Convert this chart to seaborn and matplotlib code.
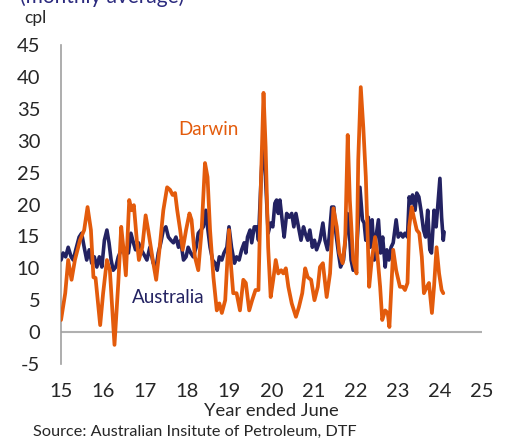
import pandas as pd
import matplotlib
matplotlib.use("Agg")
import matplotlib.pyplot as plt
import seaborn as sns

# Year ended June (decimal), cents per litre
darwin_t = [15.00, 15.10, 15.17, 15.25, 15.33, 15.45, 15.55, 15.63, 15.71, 15.77,
            15.82, 15.93, 16.00, 16.09, 16.16, 16.27, 16.36, 16.43, 16.48, 16.54,
            16.62, 16.68, 16.73, 16.80, 16.85, 16.93, 17.01, 17.07, 17.18, 17.26,
            17.33, 17.43, 17.52, 17.59, 17.65, 17.71, 17.76, 17.83, 17.89, 17.97,
            18.05, 18.10, 18.18, 18.26, 18.34, 18.42, 18.48, 18.54, 18.62, 18.70,
            18.76, 18.82, 18.90, 18.99, 19.04, 19.09, 19.17, 19.25, 19.33, 19.39,
            19.47, 19.54, 19.62, 19.69, 19.75, 19.81, 19.86, 19.92, 19.98, 20.04,
            20.10, 20.16, 20.23, 20.28, 20.34, 20.40, 20.48, 20.58, 20.65, 20.73,
            20.80, 20.86, 20.94, 21.02, 21.10, 21.15, 21.22, 21.31, 21.39, 21.47,
            21.55, 21.61, 21.69, 21.75, 21.81, 21.86, 21.94, 22.02, 22.06, 22.12,
            22.18, 22.24, 22.30, 22.32, 22.38, 22.46, 22.51, 22.58, 22.63, 22.70,
            22.76, 22.80, 22.84, 22.89, 22.96, 23.05, 23.12, 23.17, 23.23, 23.27,
            23.33, 23.38, 23.45, 23.51, 23.57, 23.62, 23.69, 23.74, 23.81, 23.86,
            23.92, 23.98, 24.04, 24.08]
darwin_v = [1.9, 6.1, 11.3, 8.2, 11.3, 14.4, 16.0, 19.6, 16.0, 8.6,
            8.5, 1.1, 6.1, 11.3, 9.7, -2.0, 7.7, 16.5, 13.3, 8.9,
            20.7, 19.1, 19.9, 14.4, 11.3, 13.3, 18.3, 16.0, 11.3, 8.2,
            12.4, 19.1, 22.7, 22.3, 21.5, 21.8, 19.1, 16.0, 12.9, 16.0,
            18.6, 17.6, 11.8, 9.7, 16.0, 26.5, 24.3, 16.0, 8.6, 3.4,
            4.5, 3.0, 5.0, 16.0, 10.2, 6.1, 6.1, 3.4, 8.2, 7.7,
            3.4, 5.0, 6.6, 6.6, 23.8, 37.5, 29.0, 13.3, 5.5, 8.2,
            11.3, 9.2, 9.7, 9.2, 10.0, 7.1, 4.5, 2.4, 3.9, 6.1,
            10.0, 8.6, 8.2, 5.0, 7.1, 10.2, 10.8, 5.5, 9.2, 19.4,
            16.5, 12.4, 10.8, 14.4, 30.9, 20.7, 11.3, 9.2, 27.0, 38.4,
            32.1, 24.3, 11.3, 7.1, 11.3, 14.9, 12.4, 7.1, 1.9, 3.4,
            3.0, 0.8, 6.1, 12.9, 9.7, 7.1, 7.1, 6.6, 7.7, 16.5,
            19.6, 18.0, 16.0, 15.5, 11.8, 6.1, 7.1, 7.7, 3.0, 7.1,
            13.3, 9.2, 6.6, 6.1]

aus_t = [15.00, 15.05, 15.11, 15.17, 15.24, 15.29, 15.35, 15.43, 15.49, 15.55,
         15.61, 15.67, 15.73, 15.79, 15.85, 15.91, 15.97, 16.03, 16.09, 16.14,
         16.19, 16.24, 16.30, 16.36, 16.43, 16.48, 16.54, 16.60, 16.66, 16.72,
         16.77, 16.84, 16.89, 16.95, 17.04, 17.11, 17.19, 17.26, 17.31, 17.37,
         17.43, 17.49, 17.55, 17.61, 17.67, 17.73, 17.79, 17.84, 17.91, 17.97,
         18.02, 18.08, 18.14, 18.21, 18.26, 18.32, 18.38, 18.44, 18.48, 18.54,
         18.60, 18.66, 18.71, 18.76, 18.82, 18.87, 18.94, 18.99, 19.05, 19.12,
         19.17, 19.23, 19.29, 19.35, 19.39, 19.43, 19.49, 19.53, 19.59, 19.65,
         19.69, 19.75, 19.81, 19.86, 19.92, 19.98, 20.03, 20.08, 20.12, 20.16,
         20.20, 20.26, 20.30, 20.36, 20.42, 20.48, 20.53, 20.58, 20.64, 20.70,
         20.76, 20.80, 20.86, 20.91, 20.97, 21.02, 21.07, 21.13, 21.15, 21.22,
         21.27, 21.33, 21.37, 21.43, 21.48, 21.53, 21.59, 21.64, 21.71, 21.76,
         21.80, 21.85, 21.89, 21.94, 22.00, 22.05, 22.10, 22.16, 22.20, 22.24,
         22.30, 22.34, 22.39, 22.44, 22.48, 22.54, 22.59, 22.64, 22.70, 22.74,
         22.79, 22.84, 22.89, 22.96, 23.01, 23.07, 23.12, 23.17, 23.23, 23.27,
         23.31, 23.35, 23.41, 23.45, 23.50, 23.55, 23.61, 23.66, 23.71, 23.76,
         23.80, 23.86, 23.91, 23.95, 24.00, 24.04, 24.08, 24.10]
aus_v = [11.3, 12.4, 11.8, 13.3, 11.8, 11.3, 12.9, 14.9, 15.5, 13.3,
         11.3, 12.9, 10.8, 11.8, 10.2, 11.8, 10.2, 14.4, 16.0, 14.0,
         11.3, 9.7, 10.2, 11.8, 12.9, 13.3, 12.9, 12.4, 15.5, 14.0,
         12.9, 14.0, 13.1, 12.4, 11.3, 13.3, 10.8, 10.2, 12.4, 14.0,
         16.0, 16.5, 14.9, 14.4, 14.0, 14.9, 13.3, 14.4, 11.3, 11.8,
         13.3, 12.4, 11.8, 13.3, 15.5, 16.0, 16.5, 19.1, 16.5, 13.3,
         11.3, 10.8, 9.7, 11.8, 11.3, 12.4, 13.3, 16.5, 13.3, 10.8,
         11.8, 11.3, 12.9, 14.0, 12.4, 14.9, 16.0, 14.0, 16.5, 16.5,
         14.4, 23.8, 31.5, 23.8, 15.5, 17.1, 16.5, 20.2, 20.7, 18.6,
         20.7, 17.1, 14.9, 18.6, 18.0, 18.6, 16.5, 18.6, 16.5, 14.4,
         16.5, 15.5, 14.4, 16.0, 13.3, 14.4, 12.9, 14.0, 14.4, 17.1,
         14.4, 12.9, 14.9, 19.6, 19.6, 15.5, 12.4, 10.2, 11.3, 14.9,
         18.6, 15.5, 11.3, 9.7, 10.2, 16.0, 22.7, 17.6, 17.1, 14.4,
         18.0, 13.3, 17.6, 11.3, 14.9, 17.6, 12.4, 14.9, 10.2, 12.9,
         11.3, 13.3, 14.0, 17.6, 14.9, 15.5, 14.9, 15.5, 14.9, 21.2,
         20.2, 21.5, 19.1, 21.8, 21.2, 19.1, 16.0, 14.9, 19.1, 12.9,
         12.4, 19.1, 16.5, 19.9, 24.1, 18.0, 14.4, 15.7]

x_ticks = list(range(15, 26))
y_ticks = list(range(-5, 50, 5))

ORANGE = "#E35B0C"
NAVY = "#232262"

sns.set_style("white")
plt.rcParams["font.family"] = ["Lato", "DejaVu Sans"]
plt.rcParams["axes.unicode_minus"] = False

fig = plt.figure(figsize=(5.06, 4.40), dpi=100)
ax = fig.add_axes([0.1206, 0.1727, 0.832, 0.725])

aus = pd.DataFrame({"year": aus_t, "cpl": aus_v})
drw = pd.DataFrame({"year": darwin_t, "cpl": darwin_v})

ax.axhline(0, color="#b0b0b0", lw=1.5, zorder=1)
sns.lineplot(data=aus, x="year", y="cpl", ax=ax, color=NAVY, lw=2.6, zorder=3)
sns.lineplot(data=drw, x="year", y="cpl", ax=ax, color=ORANGE, lw=2.7, zorder=4)

ax.set_xlim(15, 25)
ax.set_ylim(-5, 45)
ax.set_xticks(x_ticks)
ax.set_yticks(y_ticks)
ax.tick_params(axis="x", length=0, pad=14, labelsize=14.5)
ax.tick_params(axis="y", length=0, pad=15, labelsize=14.5)
ax.set_xlabel("Year ended June", fontsize=13.2, labelpad=2)
ax.set_ylabel("")

for side in ["top", "right", "bottom"]:
    ax.spines[side].set_visible(False)
ax.spines["left"].set_color("#a0a0a0")
ax.spines["left"].set_linewidth(1.2)

ax.text(16.68, 5.5, "Australia", color=NAVY, fontsize=13.5, va="center", ha="left")
ax.text(18.49, 31.8, "Darwin", color=ORANGE, fontsize=13.5, va="center", ha="center")

fig.text(24 / 506, 1 - 18 / 440, "cpl", fontsize=12.5, va="center", ha="left")
fig.text(20 / 506, 1 - 3 / 440, "(monthly average)", fontsize=15, color="#2B2A7E",
         va="baseline", ha="left")
fig.text(33 / 506, 1 - 432 / 440, "Source: Australian Insitute of Petroleum, DTF",
         fontsize=11.7, va="center", ha="left")

fig.savefig("out.png", dpi=100)
